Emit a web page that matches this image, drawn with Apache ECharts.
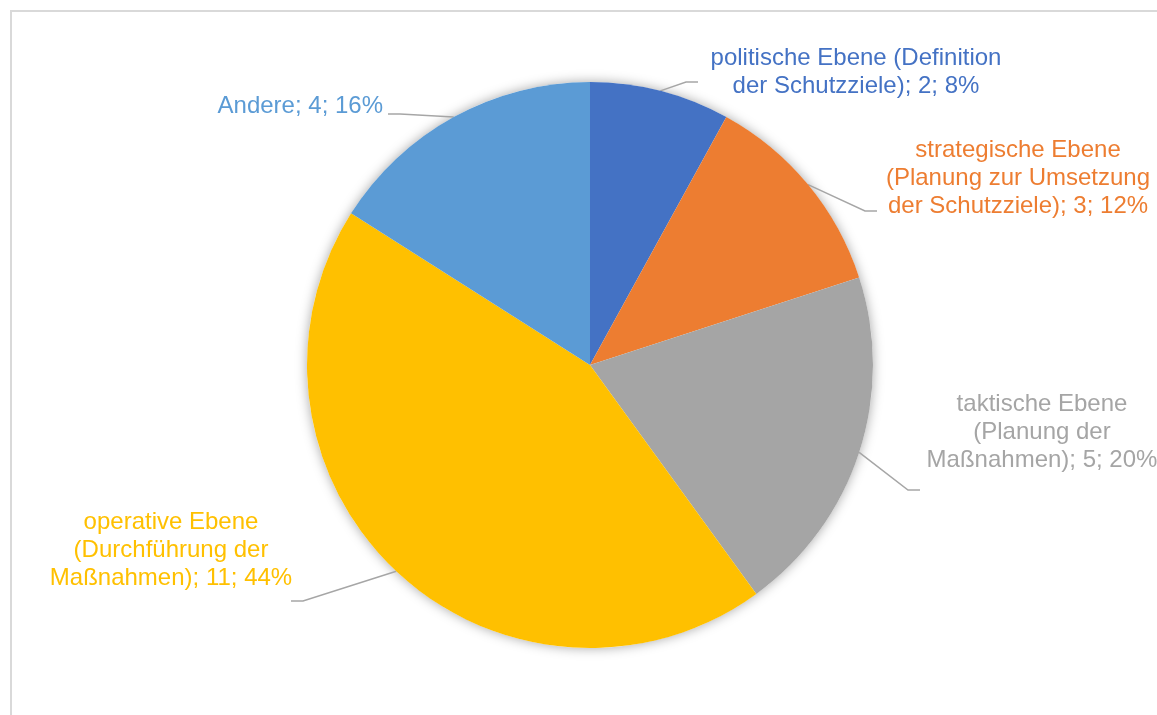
<!DOCTYPE html>
<html>
<head>
<meta charset="utf-8">
<script src="https://cdn.jsdelivr.net/npm/echarts@6/dist/echarts.min.js"></script>
<style>
  html, body { margin: 0; padding: 0; background: #ffffff; }
  #chart { width: 1157px; height: 715px; }
</style>
</head>
<body>
<div id="chart"></div>
<script>
// Survey answers: which planning level is addressed
const categories = [
  'politische Ebene (Definition\nder Schutzziele)',
  'strategische Ebene\n(Planung zur Umsetzung\nder Schutzziele)',
  'taktische Ebene\n(Planung der\nMaßnahmen)',
  'operative Ebene\n(Durchführung der\nMaßnahmen)',
  'Andere'
];
const counts = [2, 3, 5, 11, 4];
const sliceColors = ['#4472C4', '#ED7D31', '#A5A5A5', '#FFC000', '#5B9BD5'];

// Where each data label sits and where its leader line ends
const labelPlacement = [
  { x: 856, y: 72, align: 'center', ex: 698, ey: 82 },
  { x: 1018, y: 178, align: 'center', ex: 877, ey: 211 },
  { x: 1042, y: 432, align: 'center', ex: 920, ey: 490 },
  { x: 171, y: 550, align: 'center', ex: 291, ey: 601 },
  { x: 383, y: 106, align: 'right', ex: 388, ey: 114 }
];

const PIE_CENTER = [590, 365];
const PIE_RADIUS = 283;
const total = counts.reduce((a, b) => a + b, 0);

const chart = echarts.init(document.getElementById('chart'), null, { renderer: 'canvas' });

const option = {
  backgroundColor: '#ffffff',
  animation: false,
  graphic: [{
    type: 'rect',
    silent: true,
    shape: { x: 11, y: 11, width: 1400, height: 1000 },
    style: { fill: null, stroke: '#D9D9D9', lineWidth: 2 }
  }],
  series: [
    {
      // soft outer shadow beneath the whole pie
      type: 'pie',
      silent: true,
      z: 1,
      center: PIE_CENTER,
      radius: PIE_RADIUS,
      label: { show: false },
      labelLine: { show: false },
      itemStyle: {
        color: '#ffffff',
        shadowBlur: 12,
        shadowColor: 'rgba(0,0,0,0.35)'
      },
      data: [{ value: total, name: 'Summe' }]
    },
    {
      type: 'pie',
      z: 2,
      center: PIE_CENTER,
      radius: PIE_RADIUS,
      startAngle: 90,
      clockwise: true,
      avoidLabelOverlap: false,
      itemStyle: { borderWidth: 0 },
      label: {
        show: true,
        position: 'outside',
        fontFamily: '"Liberation Sans", Arial, sans-serif',
        fontSize: 24,
        lineHeight: 28,
        formatter: p => p.name + '; ' + p.value + '; ' + p.percent + '%'
      },
      labelLine: {
        show: true,
        length: 20,
        length2: 12,
        lineStyle: { color: '#A6A6A6', width: 1.5 }
      },
      labelLayout: function (params) {
        const pl = labelPlacement[params.dataIndex];
        const start = params.labelLinePoints[0];
        const toRight = pl.ex > start[0];
        const elbow = [pl.ex + (toRight ? -12 : 12), pl.ey];
        return {
          x: pl.x,
          y: pl.y,
          align: pl.align,
          verticalAlign: 'middle',
          hideOverlap: false,
          labelLinePoints: [start, elbow, [pl.ex, pl.ey]]
        };
      },
      data: categories.map((name, i) => ({
        name: name,
        value: counts[i],
        itemStyle: { color: sliceColors[i] },
        label: { color: sliceColors[i] }
      }))
    }
  ]
};

chart.setOption(option);
</script>
</body>
</html>
